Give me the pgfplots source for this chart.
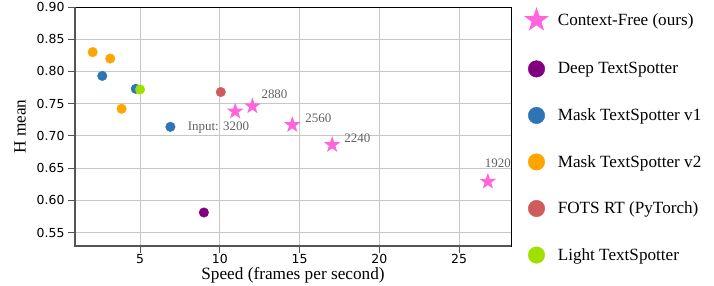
\documentclass[border=0pt]{standalone}
\usepackage{pgfplots}
\pgfplotsset{compat=1.18}
\usepackage{fontspec}
\setmainfont{Liberation Serif}
\newfontfamily\tickfont{DejaVu Sans}
\definecolor{cfpink}{HTML}{FF66DD}
\definecolor{dtpurple}{HTML}{800080}
\definecolor{mtblue}{HTML}{2E75B6}
\definecolor{mtorange}{HTML}{FFA500}
\definecolor{fotsred}{HTML}{CD5C5C}
\definecolor{ltgreen}{HTML}{A0E000}
\definecolor{spinegray}{HTML}{555555}
\pgfdeclareplotmark{fstar}{%
  \pgfpathmoveto{\pgfpointpolar{90}{\pgfplotmarksize}}%
  \pgfpathlineto{\pgfpointpolar{126}{0.4\pgfplotmarksize}}%
  \pgfpathlineto{\pgfpointpolar{162}{\pgfplotmarksize}}%
  \pgfpathlineto{\pgfpointpolar{198}{0.4\pgfplotmarksize}}%
  \pgfpathlineto{\pgfpointpolar{234}{\pgfplotmarksize}}%
  \pgfpathlineto{\pgfpointpolar{270}{0.4\pgfplotmarksize}}%
  \pgfpathlineto{\pgfpointpolar{306}{\pgfplotmarksize}}%
  \pgfpathlineto{\pgfpointpolar{342}{0.4\pgfplotmarksize}}%
  \pgfpathlineto{\pgfpointpolar{18}{\pgfplotmarksize}}%
  \pgfpathlineto{\pgfpointpolar{54}{0.4\pgfplotmarksize}}%
  \pgfpathclose
  \pgfusepathqfill}
\begin{document}
\begin{tikzpicture}
\path[use as bounding box] (-75bp,-40bp) rectangle (639bp,246bp);
\begin{axis}[
  at={(0,0)}, anchor=south west,
  scale only axis, width=436bp, height=239bp,
  xmin=0.92, xmax=28.25, ymin=0.529, ymax=0.90,
  xtick={5,10,15,20,25},
  ytick={0.55,0.60,0.65,0.70,0.75,0.80,0.85,0.90},
  xtick pos=lower, ytick pos=left,
  yticklabel style={/pgf/number format/.cd, fixed, fixed zerofill, precision=2, assume math mode=true},
  xticklabel style={/pgf/number format/assume math mode=true, yshift=2bp},
  ticklabel style={font=\tickfont\fontsize{12.5}{14}\selectfont},
  tick align=outside, major tick length=7bp,
  tick style={color=spinegray, line width=0.8bp},
  grid=major, grid style={color=black!22, line width=0.9bp},
  axis line style={black, line width=0.8bp},
  xlabel={Speed (frames per second)},
  ylabel={H mean},
  label style={font=\fontsize{17.3}{20}\selectfont},
  xlabel style={yshift=3bp},
  ylabel style={yshift=4bp},
  legend cell align=left,
  legend style={draw=none, fill=none, at={(1,1)}, anchor=north west, xshift=10bp, yshift=2bp,
    font=\fontsize{17.2}{20}\selectfont, row sep=30bp,
    nodes={inner sep=1bp},
    /tikz/every odd column/.append style={column sep=8bp}},
  clip=false,
]
\addplot[only marks, mark=fstar, mark size=8.7pt, color=cfpink, legend image post style={mark size=13pt}]
  coordinates {(10.96,0.738) (12.04,0.746) (14.54,0.717) (17.04,0.686) (26.8,0.629)};
\addlegendentry{Context-Free (ours)}
\addplot[only marks, mark=*, mark size=4.8pt, color=dtpurple, legend image post style={mark size=8.3pt}]
  coordinates {(9.0,0.581)};
\addlegendentry{Deep TextSpotter}
\addplot[only marks, mark=*, mark size=4.8pt, color=mtblue, legend image post style={mark size=8.3pt}]
  coordinates {(2.63,0.793) (4.73,0.773) (6.9,0.714)};
\addlegendentry{Mask TextSpotter v1}
\addplot[only marks, mark=*, mark size=4.8pt, color=mtorange, legend image post style={mark size=8.3pt}]
  coordinates {(2.03,0.830) (3.13,0.820) (3.84,0.742)};
\addlegendentry{Mask TextSpotter v2}
\addplot[only marks, mark=*, mark size=4.8pt, color=fotsred, legend image post style={mark size=8.3pt}]
  coordinates {(10.06,0.768)};
\addlegendentry{FOTS RT (PyTorch)}
\addplot[only marks, mark=*, mark size=4.8pt, color=ltgreen, legend image post style={mark size=8.3pt}]
  coordinates {(5.0,0.772)};
\addlegendentry{Light TextSpotter}
\draw[spinegray, line width=1.3bp] (rel axis cs:0,1) -- (rel axis cs:0,0) -- (rel axis cs:1,0);
\begin{scope}[every node/.style={anchor=west, inner sep=0pt, text=black!62, font=\fontsize{13}{15}\selectfont}]
\node at (axis cs:7.98,0.713) {Input: 3200};
\node at (axis cs:12.6,0.764) {2880};
\node at (axis cs:15.35,0.728) {2560};
\node at (axis cs:17.8,0.697) {2240};
\node at (axis cs:26.6,0.657) {1920};
\end{scope}
\end{axis}
\end{tikzpicture}
\end{document}
